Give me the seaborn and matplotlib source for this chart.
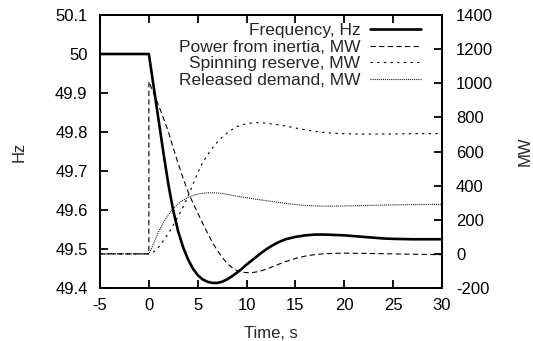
import numpy as np
import pandas as pd
import matplotlib
matplotlib.use("Agg")
import matplotlib.pyplot as plt
import seaborn as sns

# ---- data ----
freq_t = [-5, 0, 0.5, 1, 1.5, 2, 2.5, 3, 3.5, 4, 4.5, 5, 5.5, 6, 6.5, 7, 7.5, 8,
          8.5, 9, 9.5, 10, 10.5, 11, 11.5, 12, 12.5, 13, 13.5, 14, 15, 16, 17, 18,
          19, 20, 21, 22, 23, 24, 25, 27, 30]
freq_hz = [50, 50, 49.915, 49.83, 49.745, 49.665, 49.598, 49.545, 49.505, 49.474,
           49.450, 49.433, 49.422, 49.416, 49.413, 49.413, 49.416, 49.422, 49.430,
           49.439, 49.449, 49.460, 49.470, 49.480, 49.490, 49.499, 49.507, 49.514,
           49.520, 49.525, 49.531, 49.535, 49.537, 49.537, 49.536, 49.535, 49.533,
           49.531, 49.529, 49.527, 49.526, 49.525, 49.525]

inertia_t = [-5, 0, 0, 0.5, 1, 1.5, 2, 2.5, 3, 3.5, 4, 4.5, 5, 5.5, 6, 6.5, 7, 7.5,
             8, 8.5, 9, 9.5, 10, 10.5, 11, 11.5, 12, 13, 14, 15, 16, 17, 18, 19, 20,
             22, 24, 26, 28, 30]
inertia_mw = [0, 0, 1010, 940, 870, 795, 715, 620, 530, 445, 365, 300, 240, 180,
              122, 68, 20, -20, -55, -80, -98, -107, -110, -110, -106, -99, -90,
              -67, -45, -27, -13, -4, 1, 3, 4, 3, 1, -1, -3, -5]

spin_t = [-5, 0, 0.5, 1, 1.5, 2, 2.5, 3, 3.5, 4, 4.5, 5, 5.5, 6, 6.5, 7, 7.5, 8,
          8.5, 9, 9.5, 10, 10.5, 11, 11.5, 12, 13, 14, 15, 16, 17, 18, 19, 20, 22,
          25, 28, 30]
spin_mw = [0, 0, 12, 40, 78, 120, 168, 220, 275, 337, 405, 475, 535, 580, 620, 655,
           684, 708, 728, 745, 756, 763, 767, 769, 769, 766, 758, 749, 738, 727, 718,
           711, 707, 704, 702, 703, 705, 705]

demand_t = [-5, 0, 0.3, 0.63, 1, 1.5, 2, 2.5, 3, 3.5, 4, 4.5, 5, 5.5, 6, 6.5, 7,
            7.5, 8, 8.5, 9, 10, 11, 12, 13, 14, 15, 16, 17, 18, 19, 20, 22, 24, 27,
            30]
demand_mw = [0, 0, 35, 81, 130, 185, 230, 265, 293, 315, 330, 342, 350, 355, 358,
             358, 357, 354, 349, 344, 338, 329, 320, 312, 304, 296, 289, 284, 281,
             280, 280, 281, 283, 286, 289, 290]

x_ticks = [-5, 0, 5, 10, 15, 20, 25, 30]
hz_ticks = [49.4, 49.5, 49.6, 49.7, 49.8, 49.9, 50, 50.1]
hz_labels = ["49.4", "49.5", "49.6", "49.7", "49.8", "49.9", "50", "50.1"]
mw_ticks = [-200, 0, 200, 400, 600, 800, 1000, 1200, 1400]

labels = ["Frequency, Hz", "Power from inertia, MW", "Spinning reserve, MW",
          "Released demand, MW"]

# ---- style ----
sns.set_style("ticks")
plt.rcParams["font.family"] = ["Liberation Sans", "DejaVu Sans"]
plt.rcParams["font.size"] = 12
plt.rcParams["lines.scale_dashes"] = False

fig = plt.figure(figsize=(5.33, 3.41), dpi=100)
ax = fig.add_axes([100 / 533, 1 - 288 / 341, 342 / 533, 273 / 341])
ax2 = ax.twinx()

df_f = pd.DataFrame({"t": freq_t, "v": freq_hz})
df_i = pd.DataFrame({"t": inertia_t, "v": inertia_mw})
df_s = pd.DataFrame({"t": spin_t, "v": spin_mw})
df_d = pd.DataFrame({"t": demand_t, "v": demand_mw})

sns.lineplot(data=df_i, x="t", y="v", ax=ax2, sort=False, estimator=None,
             color="black", lw=0.8, label=labels[1])
sns.lineplot(data=df_s, x="t", y="v", ax=ax2, sort=False, estimator=None,
             color="black", lw=0.8, label=labels[2])
sns.lineplot(data=df_d, x="t", y="v", ax=ax2, sort=False, estimator=None,
             color="black", lw=0.8, label=labels[3])
sns.lineplot(data=df_f, x="t", y="v", ax=ax, sort=False, estimator=None,
             color="black", lw=1.9, label=labels[0])

l_i, l_s, l_d = ax2.get_lines()[:3]
l_i.set_dashes((3.8, 2.4))
l_s.set_dashes((1.7, 3.1))
l_d.set_dashes((0.7, 0.8))
for ln in (l_i, l_s, l_d):
    ln.set_dash_capstyle("butt")

ax.set_xlim(-5, 30)
ax.set_ylim(49.4, 50.1)
ax2.set_ylim(-200, 1400)
ax.set_xticks(x_ticks)
ax.set_xticklabels([str(v) for v in x_ticks])
ax.set_yticks(hz_ticks)
ax.set_yticklabels(hz_labels)
ax2.set_yticks(mw_ticks)
ax2.set_yticklabels([str(v) for v in mw_ticks])

for a in (ax, ax2):
    for sp in a.spines.values():
        sp.set_visible(True)
        sp.set_linewidth(1.3)
        sp.set_color("black")

ax.tick_params(axis="x", direction="in", top=True, bottom=True, length=5.5,
               width=1.3, pad=7, labelsize=12, colors="black")
ax.tick_params(axis="y", direction="in", left=True, right=False, length=5.5,
               width=1.3, pad=9, labelsize=12, colors="black")
ax2.tick_params(axis="y", direction="in", right=True, left=False, length=5.5,
                width=1.3, pad=10, labelsize=12, colors="black")

ax.set_xlabel("Time, s", fontsize=12)
ax.set_ylabel("Hz", fontsize=12)
ax2.set_ylabel("MW", fontsize=12)
ax.xaxis.set_label_coords(0.5, -0.14)
ax.yaxis.set_label_coords(-0.214, 0.5)
ax2.yaxis.set_label_coords(1.222, 0.5)

for a in (ax, ax2):
    lg = a.get_legend()
    if lg is not None:
        lg.remove()

handles = [ax.get_lines()[0], l_i, l_s, l_d]
leg = ax2.legend(handles, labels, loc="upper right",
                 bbox_to_anchor=((421 - 100) / 342, (288 - 23) / 273),
                 frameon=False, markerfirst=False, borderpad=0, borderaxespad=0,
                 handlelength=2.94, handletextpad=0.55, labelspacing=0.08,
                 fontsize=12.5)

fig.savefig("out.png", dpi=100)
